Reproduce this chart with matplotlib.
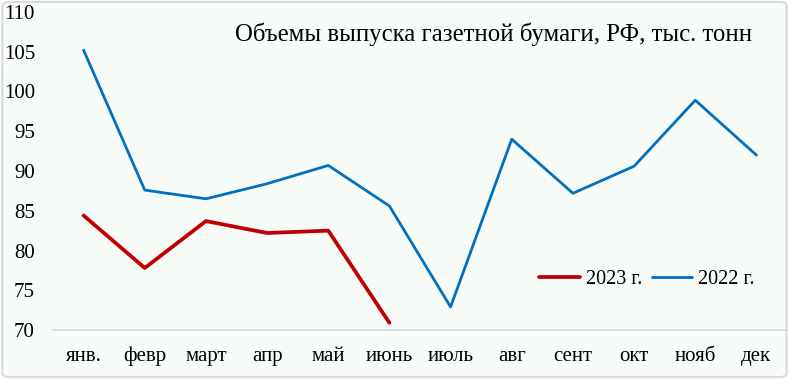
import numpy as np
import matplotlib.pyplot as plt
from matplotlib.patches import FancyBboxPatch

months = ['янв.', 'февр', 'март', 'апр', 'май', 'июнь', 'июль', 'авг', 'сент', 'окт', 'нояб', 'дек']
v2022 = [105.2, 87.6, 86.5, 88.4, 90.7, 85.6, 72.9, 94.0, 87.2, 90.6, 98.9, 92.0]
v2023 = [84.4, 77.8, 83.7, 82.2, 82.5, 70.9]
yticks = [70, 75, 80, 85, 90, 95, 100, 105, 110]

plt.rcParams['font.family'] = ['Liberation Serif', 'DejaVu Serif']

fig = plt.figure(figsize=(7.89, 3.79), dpi=100)
fig.patch.set_facecolor('white')
fig.patches.append(FancyBboxPatch((0.003, 0.005), 0.994, 0.99, boxstyle='round,pad=0,rounding_size=0.01',
                                  transform=fig.transFigure, facecolor='#F7FCF9', edgecolor='#D9D9D9',
                                  linewidth=1.5, zorder=-1))
ax = fig.add_axes([53/789, (379-330)/379, (787-53)/789, 318/379])
ax.set_facecolor('none')

x = np.arange(len(months))
ax.plot(x[:len(v2023)], v2023, color='#C00000', lw=2.7, label='2023 г.', solid_capstyle='round')
ax.plot(x, v2022, color='#0070C0', lw=2.0, label='2022 г.', solid_capstyle='round')

ax.set_xlim(-0.5, len(months) - 0.5)
ax.set_ylim(70, 110)
ax.set_yticks(yticks)
ax.set_xticks(x)
ax.set_xticklabels(months)
ax.tick_params(length=0, labelsize=15)
ax.tick_params(axis='y', pad=13)
ax.tick_params(axis='x', pad=12)
for s in ['top', 'right', 'left']:
    ax.spines[s].set_visible(False)
ax.spines['bottom'].set_color('#D9D9D9')
ax.spines['bottom'].set_linewidth(1.2)

ax.text(0.952, 0.93, 'Объемы выпуска газетной бумаги, РФ, тыс. тонн', transform=ax.transAxes,
        ha='right', va='center', fontsize=17.8)
ax.legend(loc='center right', bbox_to_anchor=(0.981, 0.16), ncol=2, frameon=False, fontsize=14.5,
          handlelength=2.0, columnspacing=0.5, handletextpad=0.3)

fig.savefig('out.png', dpi=100)
